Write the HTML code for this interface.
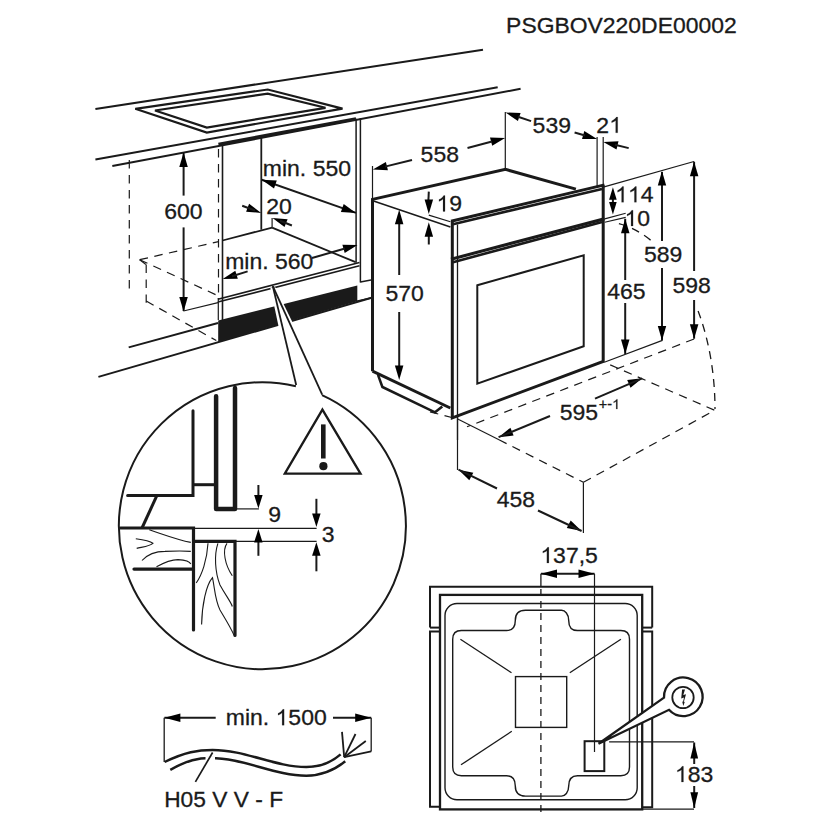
<!DOCTYPE html>
<html><head><meta charset="utf-8"><style>
html,body{margin:0;padding:0;background:#fff;width:831px;height:831px;overflow:hidden}
svg{display:block}
text{font-family:"Liberation Sans",sans-serif;fill:#1a1a1a;stroke:#1a1a1a;stroke-width:0.3}
</style></head><body>
<svg width="831" height="831" viewBox="0 0 831 831" stroke="#1a1a1a" stroke-linecap="butt" stroke-linejoin="miter">
<text transform="translate(506.10,32.68) scale(1.042,1)" font-size="22.00">PSGBOV220DE00002</text>
<line x1="95.4" y1="108.9" x2="483.0" y2="49.7" stroke-width="2" />
<line x1="95.4" y1="159.6" x2="497.7" y2="87.3" stroke-width="2" />
<line x1="112.3" y1="166.1" x2="520.6" y2="88.8" stroke-width="2" />
<polygon points="135.3,108.8 267.7,89.5 342.5,108.6 206.8,132.6" stroke-width="2.2" fill="none" />
<polygon points="155.0,110.5 267.7,93.6 325.5,107.8 206.8,127.6" stroke-width="2.2" fill="none" />
<line x1="218.4" y1="144.2" x2="356.0" y2="118.7" stroke-width="3" />
<line x1="222.5" y1="144.0" x2="222.5" y2="320.0" stroke-width="1.6" />
<line x1="356.1" y1="118.7" x2="356.1" y2="262.7" stroke-width="1.5" />
<line x1="360.4" y1="118.0" x2="360.4" y2="282.5" stroke-width="1.5" />
<line x1="261.3" y1="138.0" x2="261.3" y2="229.7" stroke-width="1.8" />
<line x1="222.5" y1="240.5" x2="272.1" y2="227.6" stroke-width="1.8" />
<line x1="272.1" y1="227.6" x2="355.6" y2="262.2" stroke-width="1.8" />
<line x1="217.9" y1="299.2" x2="359.5" y2="262.6" stroke-width="1.6" />
<line x1="217.9" y1="302.1" x2="359.5" y2="265.8" stroke-width="1.6" />
<line x1="261.7" y1="179.7" x2="356.0" y2="212.9" stroke-width="2" />
<polygon points="356.0,212.9 340.9,212.1 343.7,204.1" fill="#000" stroke="none"/>
<polygon points="261.7,179.7 276.8,180.5 274.0,188.5" fill="#000" stroke="none"/>
<text transform="translate(262.83,175.78) scale(1.045,1)" font-size="22.00">min. 550</text>
<polygon points="261.2,212.9 246.1,211.7 249.1,203.8" fill="#000" stroke="none"/>
<line x1="242.2" y1="205.7" x2="255.0" y2="210.5" stroke-width="2" />
<polygon points="272.5,217.9 287.6,219.2 284.5,227.1" fill="#000" stroke="none"/>
<line x1="291.9" y1="225.5" x2="280.0" y2="220.8" stroke-width="2" />
<line x1="272.1" y1="217.9" x2="272.1" y2="227.6" stroke-width="1.2" />
<text transform="translate(266.13,213.88) scale(1.045,1)" font-size="22.00">20</text>
<polygon points="222.7,279.0 235.3,270.7 237.8,278.8" fill="#000" stroke="none"/>
<line x1="247.6" y1="271.4" x2="232.0" y2="276.2" stroke-width="2" />
<polygon points="357.5,244.9 344.7,253.0 342.4,244.8" fill="#000" stroke="none"/>
<line x1="312.0" y1="258.0" x2="345.0" y2="248.5" stroke-width="2" />
<text transform="translate(225.13,268.98) scale(1.045,1)" font-size="22.00">min. 560</text>
<line x1="183.6" y1="195.6" x2="183.6" y2="152.0" stroke-width="2" />
<polygon points="183.6,152.6 187.8,167.1 179.3,167.1" fill="#000" stroke="none"/>
<line x1="183.6" y1="227.4" x2="183.6" y2="311.0" stroke-width="2" />
<polygon points="183.6,311.5 179.3,297.0 187.8,297.0" fill="#000" stroke="none"/>
<text transform="translate(164.25,219.18) scale(1.045,1)" font-size="22.00">600</text>
<line x1="183.5" y1="311.0" x2="218.0" y2="302.7" stroke-width="1.2" />
<line x1="129.3" y1="160.0" x2="129.3" y2="291.0" stroke-width="1.2" stroke-dasharray="8.5 6.5"/>
<line x1="218.5" y1="149.0" x2="218.5" y2="298.0" stroke-width="1.2" stroke-dasharray="8.5 6.5"/>
<line x1="218.3" y1="298.0" x2="218.3" y2="320.0" stroke-width="1.2" />
<line x1="139.7" y1="259.7" x2="218.5" y2="241.6" stroke-width="1.2" stroke-dasharray="8.5 6.5"/>
<line x1="139.7" y1="259.7" x2="218.5" y2="296.0" stroke-width="1.2" stroke-dasharray="8.5 6.5"/>
<line x1="139.7" y1="259.7" x2="145.9" y2="264.4" stroke-width="1.2" stroke-dasharray="8.5 6.5"/>
<line x1="146.2" y1="264.4" x2="146.2" y2="302.8" stroke-width="1.2" stroke-dasharray="8.5 6.5"/>
<line x1="146.2" y1="301.0" x2="216.3" y2="340.6" stroke-width="1.2" stroke-dasharray="8.5 6.5"/>
<line x1="128.7" y1="347.4" x2="218.0" y2="323.0" stroke-width="2" />
<line x1="98.4" y1="376.9" x2="371.6" y2="297.8" stroke-width="2" />
<polygon points="218.2,320.4 357.3,285.6 357.3,301.2 218.2,342" fill="#1a1a1a" stroke="none"/>
<line x1="360.4" y1="282.0" x2="371.0" y2="280.0" stroke-width="1.5" />
<line x1="356.6" y1="301.2" x2="371.0" y2="297.9" stroke-width="1.5" />
<polygon points="270.3,287.4 275.6,287.4 303.5,345 282.5,345" fill="#fff" stroke="none"/>
<line x1="272.8" y1="286.1" x2="296.2" y2="385.0" stroke-width="1.8" />
<line x1="272.8" y1="286.1" x2="322.2" y2="394.7" stroke-width="1.8" />
<polyline points="372.5,371.2 372.5,199.4 505.5,169.4 575.9,189.1" stroke-width="3" fill="none" />
<line x1="372.5" y1="371.2" x2="450.3" y2="408.0" stroke-width="3" />
<polyline points="378.0,374.8 382.4,387.0 435.0,412.3 442.3,406.5" stroke-width="2.5" fill="none" />
<line x1="372.8" y1="200.8" x2="450.4" y2="227.1" stroke-width="1.6" />
<line x1="428.8" y1="215.1" x2="450.4" y2="221.7" stroke-width="1.2" />
<polyline points="452.3,221.0 452.3,417.8 603.2,361.4 603.2,185.5" stroke-width="3" fill="none" />
<line x1="457.5" y1="224.5" x2="457.5" y2="440.0" stroke-width="1.3" />
<line x1="451.0" y1="221.3" x2="604.5" y2="184.9" stroke-width="3" />
<line x1="453.0" y1="224.2" x2="602.0" y2="188.9" stroke-width="2.6" />
<line x1="451.0" y1="259.2" x2="604.5" y2="218.7" stroke-width="3" />
<line x1="453.0" y1="262.2" x2="602.0" y2="222.1" stroke-width="2.6" />
<polygon points="477.3,285.2 583.7,255.4 583.7,346.2 477.3,383.7" stroke-width="2" fill="none" />
<line x1="428.8" y1="191.6" x2="428.2" y2="205.0" stroke-width="2" />
<polygon points="428.8,213.9 424.6,199.4 433.1,199.4" fill="#000" stroke="none"/>
<line x1="428.8" y1="244.5" x2="428.8" y2="230.0" stroke-width="2" />
<polygon points="428.8,222.3 433.1,236.8 424.6,236.8" fill="#000" stroke="none"/>
<text transform="translate(436.46,211.38) scale(1.045,1)" font-size="22.00"> 9</text>
<path transform="translate(436.46,211.38) scale(0.01123,-0.01074)" d="M763 0H583V1147Q518 1085 412.5 1023T223 930V1104Q373 1175 485.5 1276T645 1472H763V0Z" fill="#1a1a1a" stroke="#1a1a1a" stroke-width="14.0"/>
<line x1="399.2" y1="215.0" x2="399.2" y2="275.0" stroke-width="2" />
<polygon points="399.2,209.7 403.4,224.2 394.9,224.2" fill="#000" stroke="none"/>
<line x1="399.2" y1="312.0" x2="399.2" y2="375.0" stroke-width="2" />
<polygon points="399.2,380.0 394.9,365.5 403.4,365.5" fill="#000" stroke="none"/>
<text transform="translate(385.46,300.58) scale(1.045,1)" font-size="22.00">570</text>
<line x1="372.5" y1="199.4" x2="372.5" y2="166.0" stroke-width="1.2" />
<line x1="505.3" y1="169.4" x2="505.3" y2="112.0" stroke-width="1.2" />
<line x1="597.1" y1="186.5" x2="597.1" y2="137.0" stroke-width="1.2" />
<line x1="603.2" y1="186.5" x2="603.2" y2="137.0" stroke-width="1.2" />
<polygon points="372.8,169.6 385.9,162.0 387.9,170.3" fill="#000" stroke="none"/>
<line x1="412.0" y1="160.0" x2="385.0" y2="166.6" stroke-width="2" />
<polygon points="505.1,138.0 492.2,145.8 490.0,137.6" fill="#000" stroke="none"/>
<line x1="467.5" y1="148.0" x2="492.0" y2="141.5" stroke-width="2" />
<text transform="translate(420.61,162.08) scale(1.045,1)" font-size="22.00">558</text>
<polygon points="505.5,112.5 520.6,113.1 517.9,121.1" fill="#000" stroke="none"/>
<line x1="531.1" y1="121.1" x2="518.0" y2="116.7" stroke-width="2" />
<polygon points="597.1,139.0 582.0,139.1 584.3,130.9" fill="#000" stroke="none"/>
<line x1="574.6" y1="132.5" x2="585.0" y2="135.5" stroke-width="2" />
<text transform="translate(532.62,132.58) scale(1.045,1)" font-size="22.00">539</text>
<polygon points="603.4,142.1 618.5,141.3 616.5,149.6" fill="#000" stroke="none"/>
<line x1="628.7" y1="148.1" x2="615.0" y2="144.8" stroke-width="2" />
<text transform="translate(596.35,132.80) scale(1.045,1)" font-size="22.00">2 </text>
<path transform="translate(609.14,132.80) scale(0.01123,-0.01074)" d="M763 0H583V1147Q518 1085 412.5 1023T223 930V1104Q373 1175 485.5 1276T645 1472H763V0Z" fill="#1a1a1a" stroke="#1a1a1a" stroke-width="14.0"/>
<path d="M618.9,223.6 A114.4,187.9 0 0 1 651.8,241.1" stroke-width="1.3" fill="none" stroke-dasharray="8 6"/>
<path d="M698.1,310.9 A114.4,187.9 0 0 1 715.0,409.1" stroke-width="1.3" fill="none" stroke-dasharray="8 6"/>
<line x1="603.2" y1="187.2" x2="694.0" y2="161.5" stroke-width="1.2" />
<line x1="612.9" y1="195.0" x2="612.9" y2="207.0" stroke-width="2" />
<polygon points="612.9,187.3 616.7,199.8 609.1,199.8" fill="#000" stroke="none"/>
<polygon points="612.9,214.6 609.1,202.1 616.7,202.1" fill="#000" stroke="none"/>
<text transform="translate(615.06,202.30) scale(1.045,1)" font-size="22.00">  4</text>
<path transform="translate(615.06,202.30) scale(0.01123,-0.01074)" d="M763 0H583V1147Q518 1085 412.5 1023T223 930V1104Q373 1175 485.5 1276T645 1472H763V0Z" fill="#1a1a1a" stroke="#1a1a1a" stroke-width="14.0"/>
<path transform="translate(627.84,202.30) scale(0.01123,-0.01074)" d="M763 0H583V1147Q518 1085 412.5 1023T223 930V1104Q373 1175 485.5 1276T645 1472H763V0Z" fill="#1a1a1a" stroke="#1a1a1a" stroke-width="14.0"/>
<line x1="604.7" y1="218.9" x2="625.7" y2="213.3" stroke-width="1.1" />
<line x1="604.7" y1="222.2" x2="625.7" y2="217.4" stroke-width="1.1" />
<text transform="translate(624.50,226.08) scale(1.045,1)" font-size="22.00"> 0</text>
<path transform="translate(624.50,226.08) scale(0.01123,-0.01074)" d="M763 0H583V1147Q518 1085 412.5 1023T223 930V1104Q373 1175 485.5 1276T645 1472H763V0Z" fill="#1a1a1a" stroke="#1a1a1a" stroke-width="14.0"/>
<line x1="625.2" y1="218.8" x2="625.2" y2="280.0" stroke-width="2" />
<line x1="625.2" y1="303.0" x2="625.2" y2="354.0" stroke-width="2" />
<polygon points="625.2,218.8 629.5,233.3 621.0,233.3" fill="#000" stroke="none"/>
<polygon points="625.2,354.0 621.0,339.5 629.5,339.5" fill="#000" stroke="none"/>
<text transform="translate(607.13,299.28) scale(1.045,1)" font-size="22.00">465</text>
<line x1="662.0" y1="172.0" x2="662.0" y2="241.0" stroke-width="2" />
<line x1="662.0" y1="268.0" x2="662.0" y2="340.4" stroke-width="2" />
<polygon points="662.0,171.0 666.2,185.5 657.8,185.5" fill="#000" stroke="none"/>
<polygon points="662.0,340.4 657.8,325.9 666.2,325.9" fill="#000" stroke="none"/>
<text transform="translate(643.97,262.28) scale(1.045,1)" font-size="22.00">589</text>
<line x1="694.1" y1="161.7" x2="694.1" y2="271.0" stroke-width="2" />
<line x1="694.1" y1="300.0" x2="694.1" y2="338.7" stroke-width="2" />
<polygon points="694.1,161.7 698.4,176.2 689.9,176.2" fill="#000" stroke="none"/>
<polygon points="694.1,338.7 689.9,324.2 698.4,324.2" fill="#000" stroke="none"/>
<text transform="translate(672.41,293.18) scale(1.045,1)" font-size="22.00">598</text>
<line x1="604.3" y1="362.3" x2="662.4" y2="340.4" stroke-width="1.2" />
<line x1="430.0" y1="411.8" x2="457.7" y2="419.1" stroke-width="1.2" stroke-dasharray="8.5 6.5"/>
<line x1="457.7" y1="419.1" x2="499.0" y2="439.8" stroke-width="1.1" />
<line x1="499.0" y1="439.8" x2="583.4" y2="482.3" stroke-width="1.2" stroke-dasharray="8.5 6.5"/>
<line x1="583.4" y1="482.3" x2="714.7" y2="410.3" stroke-width="1.2" stroke-dasharray="8.5 6.5"/>
<line x1="694.1" y1="339.0" x2="467.0" y2="426.8" stroke-width="1.2" stroke-dasharray="8.5 6.5"/>
<line x1="610.2" y1="364.9" x2="714.7" y2="410.3" stroke-width="1.2" stroke-dasharray="8.5 6.5"/>
<line x1="457.5" y1="417.0" x2="457.5" y2="470.0" stroke-width="1.2" />
<line x1="583.4" y1="482.3" x2="583.4" y2="533.0" stroke-width="1.2" />
<polygon points="458.5,469.7 473.3,472.7 469.3,480.2" fill="#000" stroke="none"/>
<line x1="458.5" y1="469.7" x2="497.0" y2="488.5" stroke-width="2" />
<polygon points="581.6,531.0 566.8,528.1 570.7,520.5" fill="#000" stroke="none"/>
<line x1="581.6" y1="531.0" x2="538.0" y2="510.5" stroke-width="2" />
<text transform="translate(496.78,507.38) scale(1.045,1)" font-size="22.00">458</text>
<polygon points="498.6,437.2 510.4,427.7 513.6,435.6" fill="#000" stroke="none"/>
<line x1="498.6" y1="437.2" x2="550.0" y2="416.0" stroke-width="2" />
<polygon points="642.2,378.3 630.5,387.8 627.2,380.0" fill="#000" stroke="none"/>
<line x1="642.2" y1="378.3" x2="595.0" y2="398.6" stroke-width="2" />
<text transform="translate(559.76,419.88) scale(1.045,1)" font-size="22.00">595</text>
<text transform="translate(598.76,409.10) scale(1.045,1)" font-size="13.85">+- </text>
<path transform="translate(612.03,409.10) scale(0.00707,-0.00676)" d="M763 0H583V1147Q518 1085 412.5 1023T223 930V1104Q373 1175 485.5 1276T645 1472H763V0Z" fill="#1a1a1a" stroke="#1a1a1a" stroke-width="22.2"/>
<path d="M295.9,386.2 A143.5,143.5 0 1 0 322.0,395.2" stroke-width="2" fill="none" />
<polygon points="322.4,409.6 284.8,473.6 360.5,473.6" stroke-width="2.3" fill="none" />
<rect x="321" y="424.4" width="4.6" height="34.1" fill="#1a1a1a" stroke="none"/>
<circle cx="323.4" cy="466.2" r="4.1" fill="#1a1a1a" stroke="none"/>
<polyline points="193.0,410.7 193.0,495.5 127.6,495.5" stroke-width="3" fill="none" stroke-linecap="round"/>
<line x1="193.0" y1="484.7" x2="216.1" y2="484.7" stroke-width="3" />
<polyline points="216.1,396.2 216.1,509.1 235.0,509.1 235.0,388.1" stroke-width="4.5" fill="none" stroke-linecap="round" stroke-linejoin="round"/>
<line x1="235.0" y1="508.9" x2="258.9" y2="508.9" stroke-width="1.2" />
<line x1="156.5" y1="496.4" x2="142.0" y2="528.0" stroke-width="3" />
<polyline points="120.4,528.0 193.5,528.0 193.5,630.0" stroke-width="3.2" fill="none" stroke-linecap="round"/>
<line x1="193.5" y1="528.4" x2="316.6" y2="528.4" stroke-width="1.2" />
<polyline points="193.5,541.3 235.0,541.3 235.0,635.4" stroke-width="3.2" fill="none" stroke-linecap="round"/>
<line x1="235.0" y1="541.4" x2="316.6" y2="541.4" stroke-width="1.2" />
<line x1="134.0" y1="569.1" x2="193.5" y2="569.1" stroke-width="3.2" stroke-linecap="round"/>
<path d="M149.3,529.8 C165,535 178,540 190.8,542.4" stroke-width="1.1" fill="none" />
<path d="M135.8,538.8 C145,540 150,541 152.9,543.3 C150,546 142,547 136.7,548.4" stroke-width="1.1" fill="none" />
<path d="M142,560.5 C148,554 155,551.4 165,551.4 C175,551 185,551 190.8,551.4" stroke-width="1.1" fill="none" />
<path d="M156.5,566.8 C165,562 172,559.6 178,559.6 C186,560 190,562 190.8,564" stroke-width="1.1" fill="none" />
<path d="M208,543.3 C207,560 202,575 196.2,583" stroke-width="1.1" fill="none" />
<path d="M217.9,543.3 C214,555 215,572 220,585 C226,596 231,602 232.3,606.5" stroke-width="1.1" fill="none" />
<path d="M227,543.3 C222,550 225,565 232.3,575.8" stroke-width="1.1" fill="none" />
<path d="M201.6,624.5 C202,605 206,585 212.5,577.6 C215,590 215,600 220,610 C226,620 231,628 234.1,635.4" stroke-width="1.1" fill="none" />
<line x1="258.4" y1="485.0" x2="258.4" y2="500.0" stroke-width="2" />
<polygon points="258.4,508.5 254.1,495.0 262.6,495.0" fill="#000" stroke="none"/>
<line x1="258.4" y1="555.8" x2="258.4" y2="538.0" stroke-width="2" />
<polygon points="258.4,529.0 262.6,542.5 254.1,542.5" fill="#000" stroke="none"/>
<text transform="translate(268.37,521.68) scale(1.045,1)" font-size="22.00">9</text>
<line x1="316.4" y1="498.8" x2="316.4" y2="515.0" stroke-width="2" />
<polygon points="316.4,527.0 312.1,513.5 320.6,513.5" fill="#000" stroke="none"/>
<line x1="316.4" y1="571.3" x2="316.4" y2="555.0" stroke-width="2" />
<polygon points="316.4,542.3 320.6,555.8 312.1,555.8" fill="#000" stroke="none"/>
<text transform="translate(321.73,542.18) scale(1.045,1)" font-size="22.00">3</text>
<polyline points="430.0,627.6 430.0,586.8 652.2,586.8 652.2,627.6" stroke-width="2" fill="none" />
<line x1="430.0" y1="627.6" x2="439.8" y2="627.6" stroke-width="2" />
<line x1="642.0" y1="627.6" x2="652.2" y2="627.6" stroke-width="2" />
<polyline points="439.8,631.5 430.0,631.5 430.0,806.7 439.8,806.7" stroke-width="2" fill="none" />
<polyline points="642.0,631.5 652.2,631.5 652.2,807.3 642.0,807.3" stroke-width="2" fill="none" />
<rect x="440" y="594.9" width="202.2" height="214.5" stroke-width="2.3" fill="none" />
<rect x="445" y="603.5" width="192.2" height="196.3" rx="12" ry="12" stroke-width="1.4" fill="none"/>
<path d="M461.4,630.5 L506.6,630.5 C512,630.5 515.3,627 515.3,620.4 C515.3,614 519,610.3 525.4,610.3 L561.5,610.3 C565,610.3 568.7,614 568.7,620.4 C568.7,627 572,630.5 577.4,630.5 L620.8,630.5 Q629.5,630.5 629.5,639.2 L629.5,767 Q629.5,775.7 620.8,775.7 L577.4,775.7 C572,775.7 568.7,779 568.7,786 C568.7,792.5 565,796.1 561.5,796.1 L525.4,796.1 C519,796.1 515.3,792.5 515.3,786 C515.3,779 512,775.7 506.6,775.7 L461.4,775.7 Q452.7,775.7 452.7,767 L452.7,639.2 Q452.7,630.5 461.4,630.5 Z" stroke-width="1.4" fill="none" />
<rect x="515.5" y="676.6" width="51.2" height="50.8" stroke-width="1.4" fill="none" />
<line x1="460.4" y1="639.2" x2="511.5" y2="672.8" stroke-width="1.3" />
<line x1="620.9" y1="639.2" x2="569.8" y2="672.8" stroke-width="1.3" />
<line x1="461.0" y1="764.8" x2="511.8" y2="731.3" stroke-width="1.3" />
<line x1="540.9" y1="573.7" x2="540.9" y2="587.0" stroke-width="1.3" />
<line x1="540.9" y1="589.0" x2="540.9" y2="817.0" stroke-width="1.3" stroke-dasharray="7 5"/>
<line x1="540.9" y1="573.7" x2="594.5" y2="573.7" stroke-width="2" />
<polygon points="541.0,573.7 557.0,569.4 557.0,578.1" fill="#000" stroke="none"/>
<polygon points="594.5,573.7 578.5,578.1 578.5,569.4" fill="#000" stroke="none"/>
<line x1="594.5" y1="573.7" x2="594.5" y2="752.0" stroke-width="1.2" />
<text transform="translate(540.32,563.10) scale(1.045,1)" font-size="22.00"> 37,5</text>
<path transform="translate(540.32,563.10) scale(0.01123,-0.01074)" d="M763 0H583V1147Q518 1085 412.5 1023T223 930V1104Q373 1175 485.5 1276T645 1472H763V0Z" fill="#1a1a1a" stroke="#1a1a1a" stroke-width="14.0"/>
<path d="M664.0,697.6 L598.5,743.7 L669.0,709.8 A19.3,19.3 0 1 0 664.0,697.6 Z" stroke-width="2.3" fill="#fff" stroke-linejoin="miter" stroke-miterlimit="4"/>
<circle cx="683" cy="697.5" r="10.7" stroke-width="1.8" fill="none"/>
<polygon points="682.1,689.4 685,689.4 683.3,695 686,694.2 683.8,702 684.8,701.8 683.3,706 682.2,701.6 683,701.7 684,697.6 681.2,698.6" fill="#1a1a1a" stroke="none"/>
<rect x="584.6" y="741.2" width="19.7" height="29.9" stroke-width="2" fill="none" />
<line x1="609.1" y1="741.8" x2="694.0" y2="741.8" stroke-width="1.2" />
<line x1="642.4" y1="809.2" x2="694.0" y2="809.2" stroke-width="1.2" />
<line x1="694.2" y1="742.5" x2="694.2" y2="764.0" stroke-width="2" />
<line x1="694.2" y1="786.0" x2="694.2" y2="808.0" stroke-width="2" />
<polygon points="694.2,742.4 698.1,758.4 690.4,758.4" fill="#000" stroke="none"/>
<polygon points="694.2,808.2 690.4,792.2 698.1,792.2" fill="#000" stroke="none"/>
<text transform="translate(674.88,782.08) scale(1.045,1)" font-size="22.00"> 83</text>
<path transform="translate(674.88,782.08) scale(0.01123,-0.01074)" d="M763 0H583V1147Q518 1085 412.5 1023T223 930V1104Q373 1175 485.5 1276T645 1472H763V0Z" fill="#1a1a1a" stroke="#1a1a1a" stroke-width="14.0"/>
<line x1="164.2" y1="717.7" x2="164.2" y2="762.1" stroke-width="1.3" />
<line x1="164.4" y1="717.7" x2="215.7" y2="717.7" stroke-width="2" />
<polygon points="164.4,717.7 180.4,713.4 180.4,722.1" fill="#000" stroke="none"/>
<line x1="333.0" y1="717.7" x2="371.2" y2="717.7" stroke-width="2" />
<polygon points="371.2,717.7 355.2,722.1 355.2,713.4" fill="#000" stroke="none"/>
<text transform="translate(225.75,725.18) scale(1.045,1)" font-size="22.00">min.  500</text>
<path transform="translate(275.57,725.18) scale(0.01123,-0.01074)" d="M763 0H583V1147Q518 1085 412.5 1023T223 930V1104Q373 1175 485.5 1276T645 1472H763V0Z" fill="#1a1a1a" stroke="#1a1a1a" stroke-width="14.0"/>
<line x1="371.2" y1="717.7" x2="371.2" y2="751.4" stroke-width="1.3" />
<path d="M164.6,762 C185,752 198,749.9 212.6,749.9 C245,749.9 275,767 306.3,767 C322,767 333,761 340.6,754.4" stroke-width="2.5" fill="none" />
<path d="M170.3,769.8 C188,760 198,757.9 210.3,757.9 C243,757.9 275,775.7 306.3,775.7 C324,775.7 337,768 345.2,761.3" stroke-width="2.5" fill="none" />
<line x1="205.5" y1="758.3" x2="215.0" y2="758.3" stroke-width="4" stroke="#fff"/>
<line x1="212.6" y1="752.5" x2="195.4" y2="781.9" stroke-width="1.7" />
<line x1="344.2" y1="757.2" x2="342.0" y2="731.8" stroke-width="1.8" />
<line x1="344.2" y1="757.2" x2="355.5" y2="734.0" stroke-width="1.8" />
<line x1="344.2" y1="757.2" x2="365.8" y2="741.0" stroke-width="1.8" />
<line x1="344.2" y1="757.2" x2="371.2" y2="751.3" stroke-width="1.8" />
<text transform="translate(164.16,807.08) scale(1.035,1)" font-size="22.00">H05 V V - F</text>
</svg></body></html>
